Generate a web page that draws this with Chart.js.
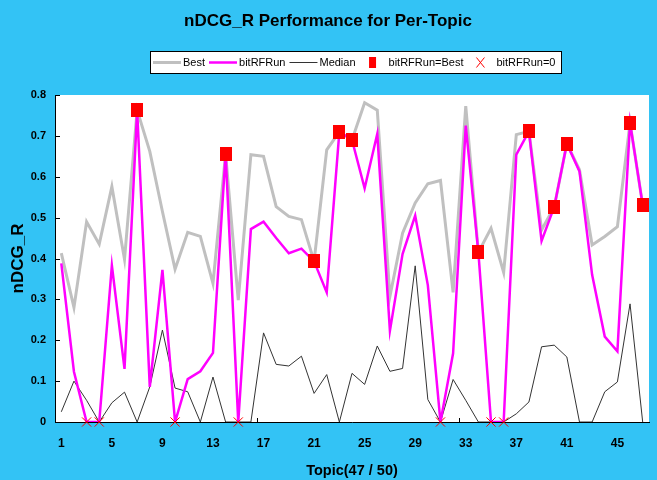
<!DOCTYPE html>
<html>
<head>
<meta charset="utf-8">
<title>nDCG_R Performance for Per-Topic</title>
<script src="https://cdn.jsdelivr.net/npm/chart.js@4.4.0/dist/chart.umd.min.js"></script>
<style>
  html, body { margin: 0; padding: 0; background: #33C3F5; }
  #wrap { width: 657px; height: 480px; }
</style>
</head>
<body>
<div id="wrap"><canvas id="topic-chart" width="657" height="480"></canvas></div>
<script>
const topics = ['1', '2', '3', '4', '5', '6', '7', '8', '9', '10',
    '11', '12', '13', '14', '15', '16', '17', '18', '19', '20',
    '21', '22', '23', '24', '25', '26', '27', '28', '29', '30',
    '31', '32', '33', '34', '35', '36', '37', '38', '39', '40',
    '41', '42', '43', '44', '45', '46', '47'];
const xTickLabels = ['1', '5', '9', '13', '17', '21', '25', '29', '33', '37', '41', '45'];

const bestScores = [0.413, 0.280, 0.490, 0.435, 0.576, 0.398, 0.763, 0.662, 0.515, 0.374,
    0.464, 0.454, 0.339, 0.656, 0.298, 0.654, 0.650, 0.527, 0.503, 0.495,
    0.393, 0.666, 0.710, 0.690, 0.781, 0.763, 0.307, 0.462, 0.536, 0.583,
    0.591, 0.317, 0.773, 0.415, 0.474, 0.366, 0.703, 0.711, 0.470, 0.526,
    0.681, 0.617, 0.433, 0.454, 0.478, 0.732, 0.531];
const runScores = [0.388, 0.123, 0, 0, 0.383, 0.130, 0.763, 0.086, 0.372, 0,
    0.105, 0.124, 0.169, 0.656, 0, 0.472, 0.490, 0.450, 0.413, 0.424,
    0.393, 0.317, 0.710, 0.690, 0.572, 0.705, 0.223, 0.411, 0.505, 0.335,
    0, 0.168, 0.725, 0.415, 0, 0, 0.654, 0.711, 0.443, 0.526,
    0.681, 0.613, 0.360, 0.209, 0.173, 0.732, 0.531];
const medianScores = [0.025, 0.100, 0.053, 0, 0.047, 0.073, 0, 0.086, 0.225, 0.083,
    0.074, 0, 0.110, 0, 0, 0, 0.218, 0.141, 0.137, 0.161,
    0.070, 0.116, 0, 0.119, 0.092, 0.186, 0.124, 0.131, 0.382, 0.055,
    0, 0.104, 0.053, 0, 0, 0, 0.020, 0.049, 0.184, 0.188,
    0.159, 0, 0, 0.074, 0.098, 0.289, 0];

const chartTitle = 'nDCG_R Performance for Per-Topic';
const xTitle = 'Topic(47 / 50)';
const yTitle = 'nDCG_R';

// markers: run equal to best, and run scoring zero
const hitBest = runScores.map((v, i) => (v === bestScores[i] ? v : null));
const hitZero = runScores.map(v => (v === 0 ? 0 : null));

const BG = '#33C3F5';
const FONT = '"Liberation Sans", Arial, sans-serif';
Chart.defaults.font.family = FONT;

function makeBox(w, h, color) {
    const c = document.createElement('canvas');
    c.width = w;
    c.height = h;
    const g = c.getContext('2d');
    g.fillStyle = color;
    g.fillRect(0, 0, w, h);
    return c;
}
const squareMark = makeBox(12, 14, '#FF0000');

// --- Plugins ---
const backdrop = {
    id: 'backdrop',
    beforeDraw(chart) {
        const { ctx, chartArea: a } = chart;
        ctx.save();
        ctx.fillStyle = BG;
        ctx.fillRect(0, 0, chart.width, chart.height);
        ctx.fillStyle = '#FFFFFF';
        ctx.fillRect(a.left, a.top, a.right - a.left, a.bottom - a.top);
        ctx.restore();
    }
};

// small tick marks pointing into the plot
const innerTicks = {
    id: 'innerTicks',
    beforeDatasetsDraw(chart) {
        const { ctx } = chart;
        const xs = chart.scales.x, ys = chart.scales.y;
        const half = (xs.right - xs.left) / topics.length / 2;
        ctx.save();
        ctx.strokeStyle = '#000';
        ctx.lineWidth = 1;
        ctx.beginPath();
        ys.ticks.forEach(t => {
            const py = Math.round(ys.getPixelForValue(t.value)) + 0.5;
            ctx.moveTo(xs.left, py);
            ctx.lineTo(xs.left + 5, py);
        });
        xs.ticks.forEach((t, i) => {
            if (i === 0 || !xTickLabels.includes(topics[i])) return;
            const px = Math.round(xs.getPixelForTick(i) - half) + 0.5;
            ctx.moveTo(px, ys.bottom);
            ctx.lineTo(px, ys.bottom - 4);
        });
        ctx.stroke();
        ctx.restore();
    }
};

// title + boxed legend like the original sheet
const header = {
    id: 'header',
    afterDraw(chart) {
        const { ctx } = chart;
        ctx.save();
        ctx.fillStyle = '#000';
        ctx.textAlign = 'center';
        ctx.textBaseline = 'middle';
        ctx.font = 'bold 17px ' + FONT;
        ctx.fillText(chartTitle, 328, 21);

        ctx.fillStyle = '#FFFFFF';
        ctx.fillRect(150, 51, 412, 23);
        ctx.strokeStyle = '#000';
        ctx.lineWidth = 1;
        ctx.strokeRect(150.5, 51.5, 411, 22);

        ctx.font = '11px ' + FONT;
        ctx.textAlign = 'left';
        const ly = 62.5;
        let cx = 153;
        chart.data.datasets.forEach(ds => {
            if (ds.showLine === false) {
                cx += 13;
                if (ds.pointStyle === 'crossRot') {
                    ctx.strokeStyle = ds.borderColor;
                    ctx.lineWidth = 1;
                    ctx.beginPath();
                    ctx.moveTo(cx - 4, ly - 5);
                    ctx.lineTo(cx + 4, ly + 5);
                    ctx.moveTo(cx + 4, ly - 5);
                    ctx.lineTo(cx - 4, ly + 5);
                    ctx.stroke();
                } else {
                    ctx.fillStyle = ds.backgroundColor;
                    ctx.fillRect(cx - 3.5, ly - 5.5, 7, 11);
                }
                cx += 16;
            } else {
                ctx.strokeStyle = ds.borderColor;
                ctx.lineWidth = ds.borderWidth;
                ctx.beginPath();
                ctx.moveTo(cx, ly);
                ctx.lineTo(cx + 28, ly);
                ctx.stroke();
                cx += 30;
            }
            ctx.fillStyle = '#000';
            ctx.fillText(ds.label, cx, ly);
            cx += ctx.measureText(ds.label).width + 4;
        });
        ctx.restore();
    }
};

// --- Chart ---
new Chart(document.getElementById('topic-chart'), {
    type: 'line',
    data: {
        labels: topics,
        datasets: [
            {
                label: 'Best',
                data: bestScores,
                borderColor: '#C0C0C0',
                borderWidth: 3,
                pointRadius: 0,
                tension: 0,
                order: 4
            },
            {
                label: 'bitRFRun',
                data: runScores,
                borderColor: '#FF00FF',
                borderWidth: 2.5,
                pointRadius: 0,
                tension: 0,
                order: 2
            },
            {
                label: 'Median',
                data: medianScores,
                borderColor: '#333333',
                borderWidth: 1,
                pointRadius: 0,
                tension: 0,
                order: 3
            },
            {
                label: 'bitRFRun=Best',
                data: hitBest,
                showLine: false,
                pointStyle: squareMark,
                pointRadius: 7,
                backgroundColor: '#FF0000',
                borderColor: '#FF0000',
                clip: false,
                order: 1
            },
            {
                label: 'bitRFRun=0',
                data: hitZero,
                showLine: false,
                pointStyle: 'crossRot',
                pointRadius: 6.5,
                borderWidth: 1,
                borderColor: '#FF0000',
                backgroundColor: '#FF0000',
                clip: false,
                order: 0
            }
        ]
    },
    options: {
        responsive: false,
        animation: false,
        layout: { padding: { top: 95, right: 2, bottom: 0, left: 0 } },
        plugins: {
            legend: { display: false },
            title: { display: false },
            tooltip: { enabled: false }
        },
        scales: {
            x: {
                type: 'category',
                offset: true,
                grid: { display: false, drawTicks: false },
                border: { display: true, color: '#000', width: 1 },
                ticks: {
                    autoSkip: false,
                    maxRotation: 0,
                    minRotation: 0,
                    padding: 14,
                    color: '#000',
                    font: { size: 12, weight: 'bold' },
                    callback(val) {
                        const l = this.getLabelForValue(val);
                        return xTickLabels.includes(l) ? l : null;
                    }
                },
                title: {
                    display: true,
                    text: xTitle,
                    color: '#000',
                    font: { size: 14.5, weight: 'bold' },
                    padding: { top: 0, bottom: 0 }
                },
                afterFit(scale) { scale.height = 58; }
            },
            y: {
                min: 0,
                max: 0.8,
                grid: { display: false, drawTicks: false },
                border: { display: true, color: '#000', width: 1 },
                ticks: {
                    stepSize: 0.1,
                    padding: 9,
                    color: '#000',
                    font: { size: 11, weight: 'bold' },
                    callback: v => (v === 0 ? '0' : v.toFixed(1))
                },
                title: {
                    display: true,
                    text: yTitle,
                    color: '#000',
                    font: { size: 17, weight: 'bold' },
                    padding: { top: 8, bottom: 0 }
                },
                afterFit(scale) { scale.width = 55; }
            }
        }
    },
    plugins: [backdrop, innerTicks, header]
});
</script>
</body>
</html>
